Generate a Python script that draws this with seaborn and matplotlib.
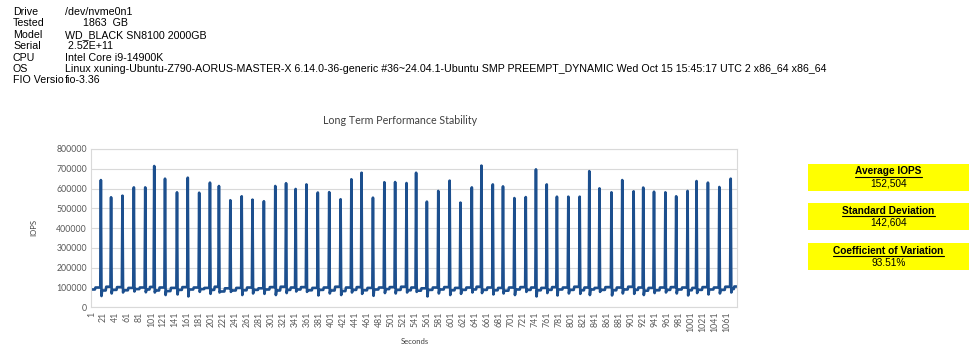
import numpy as np
import pandas as pd
import matplotlib
matplotlib.use("Agg")
import matplotlib.pyplot as plt
from matplotlib.patches import Rectangle
from matplotlib.lines import Line2D
from matplotlib.ticker import FuncFormatter
import seaborn as sns

# ---- data ----
n_seconds = 1078

peak_sec = [17, 34, 53, 72, 91, 106, 124, 144, 162, 181, 199, 214, 233, 252, 270,
            289, 308, 326, 342, 360, 379, 398, 417, 435, 452, 471, 490, 508, 527, 543,
            561, 580, 599, 617, 636, 652, 671, 688, 707, 726, 743, 761, 778, 797, 816,
            832, 849, 869, 887, 906, 922, 940, 959, 977, 996, 1011, 1030, 1049, 1068]

peak_iops = [643, 556, 564, 606, 606, 714, 650, 581, 655, 579, 630, 613, 541, 561, 544,
             536, 613, 627, 598, 621, 580, 582, 546, 647, 680, 554, 632, 633, 628, 680,
             534, 588, 640, 529, 606, 716, 621, 611, 552, 557, 697, 621, 559, 559, 559,
             688, 601, 581, 643, 586, 605, 584, 581, 561, 588, 638, 630, 608, 650]

dip_iops = [57, 70, 75, 80, 76, 75, 62, 65, 55, 78, 68, 75, 78, 62, 70,
            68, 62, 72, 80, 78, 60, 70, 62, 75, 68, 58, 72, 70, 75, 78,
            55, 70, 62, 68, 75, 72, 65, 70, 62, 78, 55, 72, 60, 70, 68,
            62, 78, 60, 70, 68, 62, 72, 75, 70, 60, 72, 65, 70, 75]

floor_early = [90, 85, 88, 86, 92, 90, 85, 82, 88, 90, 92, 88, 80, 85, 86,
               88, 90, 85, 88, 90, 86, 88, 85, 82, 88, 86, 90, 92, 88, 86,
               84, 88, 90, 86, 88, 90, 88, 86, 84, 90, 88, 86, 88, 90, 88,
               86, 90, 88, 86, 90, 88, 84, 86, 88, 90, 86, 88, 90, 88, 92]

floor_late = [100, 104, 102, 98, 100, 103, 100, 98, 102, 100, 98, 104, 96, 98, 100,
              96, 102, 104, 100, 102, 98, 100, 104, 100, 102, 98, 100, 102, 104, 100,
              96, 100, 102, 98, 100, 104, 100, 98, 100, 102, 100, 98, 102, 100, 104,
              100, 98, 102, 100, 104, 100, 98, 100, 102, 100, 98, 102, 100, 104, 105]

info_labels = ["Drive", "Tested", "Model", "Serial", "CPU", "OS", "FIO Versio"]
info_values = ["/dev/nvme0n1", "      1863  GB", "WD_BLACK SN8100 2000GB", " 2.52E+11",
               "Intel Core i9-14900K",
               "Linux xuning-Ubuntu-Z790-AORUS-MASTER-X 6.14.0-36-generic #36~24.04.1-Ubuntu SMP PREEMPT_DYNAMIC Wed Oct 15 15:45:17 UTC 2 x86_64 x86_64",
               "fio-3.36"]

stat_titles = ["Average IOPS", "Standard Deviation", "Coefficient of Variation"]
stat_values = ["152,504", "142,604", "93.51%"]

# ---- build the per-second series from the read levels ----
iops = np.zeros(n_seconds + 1)
starts = [1] + [p + 2 for p in peak_sec]
ends = [p - 1 for p in peak_sec] + [n_seconds]
for c in range(len(starts)):
    s, e = starts[c], ends[c]
    mid = (s + e) // 2
    iops[s:mid] = floor_early[c]
    iops[mid:e + 1] = floor_late[c]
for p, h, d in zip(peak_sec, peak_iops, dip_iops):
    iops[p] = h
    iops[p + 1] = d

df = pd.DataFrame({"Seconds": np.arange(1, n_seconds + 1),
                   "IOPS": iops[1:] * 1000})

# ---- figure ----
W, H = 978, 364
sns.set_theme(style="white")
plt.rcParams["font.family"] = ["Lato", "DejaVu Sans"]

fig = plt.figure(figsize=(W / 100, H / 100), dpi=100)
fig.patch.set_facecolor("white")


def fx(x):
    return x / W


def fy(y):
    return 1 - y / H


ax_l, ax_r, ax_t, ax_b = 91, 737, 149, 307.3
ax = fig.add_axes([fx(ax_l), fy(ax_b), (ax_r - ax_l) / W, (ax_b - ax_t) / H])

sns.lineplot(data=df, x="Seconds", y="IOPS", ax=ax, color="#1c4f8e", linewidth=1.9)

ax.set_xlim(0.5, n_seconds + 0.5)
ax.set_ylim(0, 800000)
ax.set_yticks(range(0, 800001, 100000))
ax.yaxis.set_major_formatter(FuncFormatter(lambda v, _: f"{int(v)}"))
ticks = list(range(1, n_seconds + 1, 20))
ax.set_xticks(ticks)
ax.set_xticklabels([str(t) for t in ticks], rotation=90)
ax.tick_params(axis="both", length=0, labelsize=6.3, colors="#595959", pad=3)
ax.grid(axis="y", color="#d9d9d9", linewidth=0.8)
ax.set_axisbelow(True)
for sp in ax.spines.values():
    sp.set_visible(True)
    sp.set_color("#d9d9d9")
    sp.set_linewidth(0.8)
ax.set_xlabel("")
ax.set_ylabel("")

fig.text(fx(400), fy(121), "Long Term Performance Stability", ha="center", va="center",
         fontsize=7.7, color="#404040")
fig.text(fx(34), fy(228), "IOPS", ha="center", va="center", rotation=90,
         fontsize=5.5, color="#404040")
fig.text(fx(415), fy(342), "Seconds", ha="center", va="center",
         fontsize=5.5, color="#404040")

# ---- header info ----
for i, (lab, val) in enumerate(zip(info_labels, info_values)):
    y = 12 + i * 11.4
    fig.text(fx(13), fy(y), lab, ha="left", va="center", fontsize=7.7,
             family="Liberation Sans", color="black")
    fig.text(fx(65), fy(y), val, ha="left", va="center", fontsize=7.7,
             family="Liberation Sans", color="black")

# ---- stat boxes ----
renderer = fig.canvas.get_renderer()
box_tops = [164, 203, 243]
for top, title, val in zip(box_tops, stat_titles, stat_values):
    fig.add_artist(Rectangle((fx(808), fy(top + 27)), 161 / W, 27 / H,
                             transform=fig.transFigure, facecolor="#ffff00",
                             edgecolor="none", zorder=1))
    t = fig.text(fx(888.5), fy(top + 7.5), title, ha="center", va="center",
                 fontsize=7.3, fontweight="bold", family="Liberation Sans",
                 color="black", zorder=2)
    bb = t.get_window_extent(renderer=renderer)
    y_ul = bb.y0 - 0.5
    fig.add_artist(Line2D([bb.x0 / W, bb.x1 / W], [y_ul / H, y_ul / H],
                          transform=fig.transFigure, color="black", linewidth=0.8,
                          zorder=2))
    fig.text(fx(888.5), fy(top + 19.5), val, ha="center", va="center",
             fontsize=7.3, family="Liberation Sans", color="black", zorder=2)

fig.savefig("out.png", dpi=100, facecolor="white")
